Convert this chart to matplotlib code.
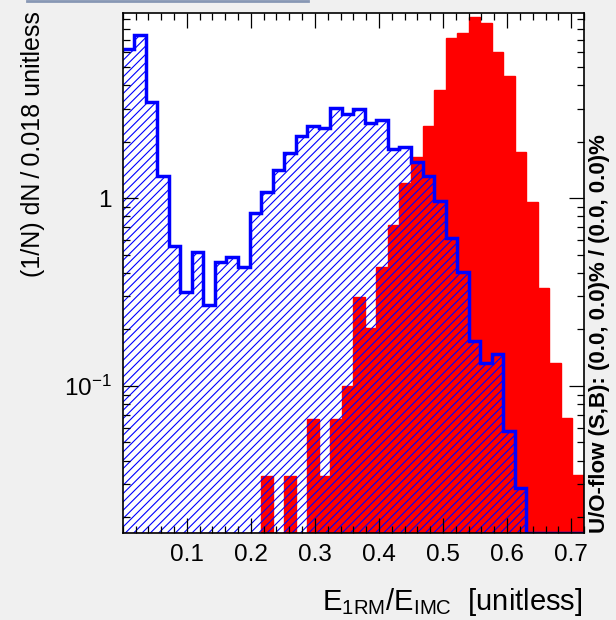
import numpy as np
import matplotlib
matplotlib.use('Agg')
import matplotlib.pyplot as plt
from matplotlib.lines import Line2D
from matplotlib.ticker import MultipleLocator, LogLocator, NullFormatter

plt.rcParams['font.family'] = ['Liberation Sans', 'DejaVu Sans']
plt.rcParams['mathtext.default'] = 'regular'
plt.rcParams['hatch.linewidth'] = 0.8

# binning: 40 bins of 0.018 between 0 and 0.72
x_lo = 0.0
bin_w = 0.018
y_lo, y_hi = 0.0164, 9.67

# red filled histogram (1/N dN/0.018)
sig = [0, 0, 0, 0, 0, 0, 0, 0, 0, 0, 0, 0,
       0.0331, 0, 0.0331, 0, 0.0665, 0.0331, 0.0665, 0.1004, 0.299, 0.203,
       0.429, 0.721, 1.20, 1.65, 2.44, 3.78, 7.12, 7.57, 9.2, 8.56,
       6.04, 4.48, 1.77, 0.959, 0.332, 0.133, 0.0673, 0.0336]
# blue hatched histogram
bkg = [6.22, 7.41, 3.27, 1.31, 0.557, 0.318, 0.519, 0.270, 0.459, 0.489,
       0.432, 0.832, 1.08, 1.42, 1.75, 2.15, 2.43, 2.36, 3.02, 2.81,
       2.98, 2.51, 2.62, 1.83, 1.87, 1.56, 1.31, 0.971, 0.612, 0.406,
       0.174, 0.133, 0.148, 0.0575, 0.0285, 0, 0, 0, 0, 0]

x_ticks = [0.1, 0.2, 0.3, 0.4, 0.5, 0.6, 0.7]
x_labels = ['0.1', '0.2', '0.3', '0.4', '0.5', '0.6', '0.7']
y_ticks = [0.1, 1]
y_labels = ['$10^{-1}$', '1']

edges = x_lo + bin_w * np.arange(len(bkg) + 1)
# empty bins sit on the lower edge, like ROOT draws them
sig_v = np.clip(sig, y_lo, None)
bkg_v = np.clip(bkg, y_lo, None)

fig = plt.figure(figsize=(6.16, 6.2), dpi=100, facecolor='#f0f0f0')
ax = fig.add_axes([0.1992, 0.1398, 0.7488, 0.8387])
ax.set_yscale('log')

ax.stairs(sig_v, edges, baseline=y_lo, fill=True, facecolor='red',
          edgecolor='red', linewidth=1, zorder=1)
ax.stairs(bkg_v, edges, baseline=y_lo, fill=True, facecolor='none',
          edgecolor='blue', hatch='////', linewidth=0, zorder=1.5)
ax.stairs(bkg_v, edges, baseline=None, fill=False, color='blue',
          linewidth=2.5, zorder=2)

ax.set_xlim(x_lo, edges[-1])
ax.set_ylim(y_lo, y_hi)
ax.set_xticks(x_ticks, x_labels)
ax.xaxis.set_minor_locator(MultipleLocator(0.02))
ax.set_yticks(y_ticks, y_labels)
ax.yaxis.set_minor_locator(LogLocator(base=10, subs=np.arange(2, 10) * 1.0, numticks=20))
ax.yaxis.set_minor_formatter(NullFormatter())
ax.set_axisbelow(False)
ax.tick_params(which='both', direction='in', top=True, right=True, width=0.9)
ax.tick_params(which='major', length=10.5, labelsize=17.5, pad=8)
ax.tick_params(which='minor', length=5)
for s in ax.spines.values():
    s.set_linewidth(1.2)

fig.text(0.945, 0.016, r'$E_{1RM}/E_{IMC}$  [unitless]', ha='right', va='baseline', fontsize=21)
fig.text(0.054, 0.982, '(1/N) dN\u2009/\u20090.018 unitless', rotation=90,
         ha='center', va='top', fontsize=18)
fig.text(0.974, 0.140, 'U/O-flow (S,B): (0.0, 0.0)% / (0.0, 0.0)%', rotation=90,
         ha='center', va='bottom', fontsize=16, fontweight='bold')

# bottom edge of the legend box that is cut off at the top
fig.add_artist(Line2D([27 / 616, 308 / 616], [0.999, 0.999], transform=fig.transFigure,
                      color='#8797b4', linewidth=2))

fig.savefig('out.png', dpi=100, facecolor=fig.get_facecolor())
